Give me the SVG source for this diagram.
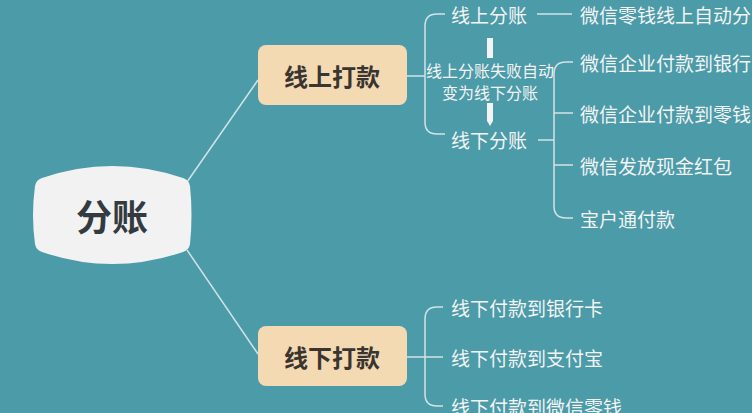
<svg xmlns="http://www.w3.org/2000/svg" width="752" height="413" viewBox="0 0 752 413">
<style>
.t{font-family:"Noto Sans CJK SC","Noto Sans",sans-serif;fill:#f4f4f4;font-size:19px;dominant-baseline:central}
.b{font-family:"Noto Sans CJK SC","Noto Sans",sans-serif;font-weight:bold;fill:#3a3530;dominant-baseline:central;text-anchor:middle}
.ln{fill:none;stroke:#d3e3e6;stroke-width:1.5}
.box{fill:#f3dab3}
</style>
<rect x="0" y="0" width="752" height="413" fill="#4b9ba9"/>
<g id="connectors">
<path class="ln" d="M187,182 L258,80"/>
<path class="ln" d="M187,250 L258,354"/>
<path class="ln" d="M407,76 L425,76"/>
<path class="ln" d="M445,14 L437,14 Q425,14 425,26 L425,122 Q425,134 437,134 L445,134"/>
<path class="ln" d="M537,14 L572,14"/>
<path class="ln" d="M538,140 L554,140"/>
<path class="ln" d="M573,62 L566,62 Q554,62 554,74 L554,206 Q554,218 566,218 L573,218"/>
<path class="ln" d="M554,113 Q554,113 573,113"/>
<path class="ln" d="M554,165 L573,165"/>
<path class="ln" d="M407,357 L443,357"/>
<path class="ln" d="M443,307 L437,307 Q425,307 425,319 L425,394 Q425,406 437,406 L443,406"/>
</g>
<g id="root">
<path d="M42,178 Q112,154 183,178 Q189,180 190,186 Q193,215 190,244 Q189,250 183,252 Q112,276 42,252 Q36,250 35,244 Q31,215 35,186 Q36,180 42,178 Z" fill="#f2f2f2"/>
<text class="b" x="112" y="215" font-size="36" fill="#333a40" style="fill:#333a40">分账</text>
</g>
<g id="online-pay">
<rect class="box" x="258" y="45" width="149" height="60" rx="8"/>
<text class="b" x="332" y="75" font-size="24">线上打款</text>
</g>
<g id="offline-pay">
<rect class="box" x="258" y="326" width="149" height="60" rx="8"/>
<text class="b" x="332" y="356" font-size="24">线下打款</text>
</g>
<g id="online-split"><text class="t" x="451" y="14">线上分账</text></g>
<g id="offline-split"><text class="t" x="451" y="139">线下分账</text></g>
<g id="fail-note">
<rect x="487" y="38" width="6" height="20" fill="#f4f4f4"/>
<path d="M487,103 L493,103 L493,121 L490,126 L487,121 Z" fill="#f4f4f4"/>
<text class="t" x="490" y="70" font-size="16" text-anchor="middle" style="font-size:16px">线上分账失败自动</text>
<text class="t" x="490" y="92" font-size="16" text-anchor="middle" style="font-size:16px">变为线下分账</text>
</g>
<g id="n-wx-auto"><text class="t" x="580" y="14">微信零钱线上自动分</text></g>
<g id="n-wx-bank"><text class="t" x="580" y="62">微信企业付款到银行</text></g>
<g id="n-wx-change"><text class="t" x="580" y="113">微信企业付款到零钱</text></g>
<g id="n-wx-red"><text class="t" x="580" y="165">微信发放现金红包</text></g>
<g id="n-bao"><text class="t" x="580" y="218">宝户通付款</text></g>
<g id="n-off-bank"><text class="t" x="451" y="307">线下付款到银行卡</text></g>
<g id="n-off-ali"><text class="t" x="451" y="357">线下付款到支付宝</text></g>
<g id="n-off-wx"><text class="t" x="451" y="406">线下付款到微信零钱</text></g>
</svg>
